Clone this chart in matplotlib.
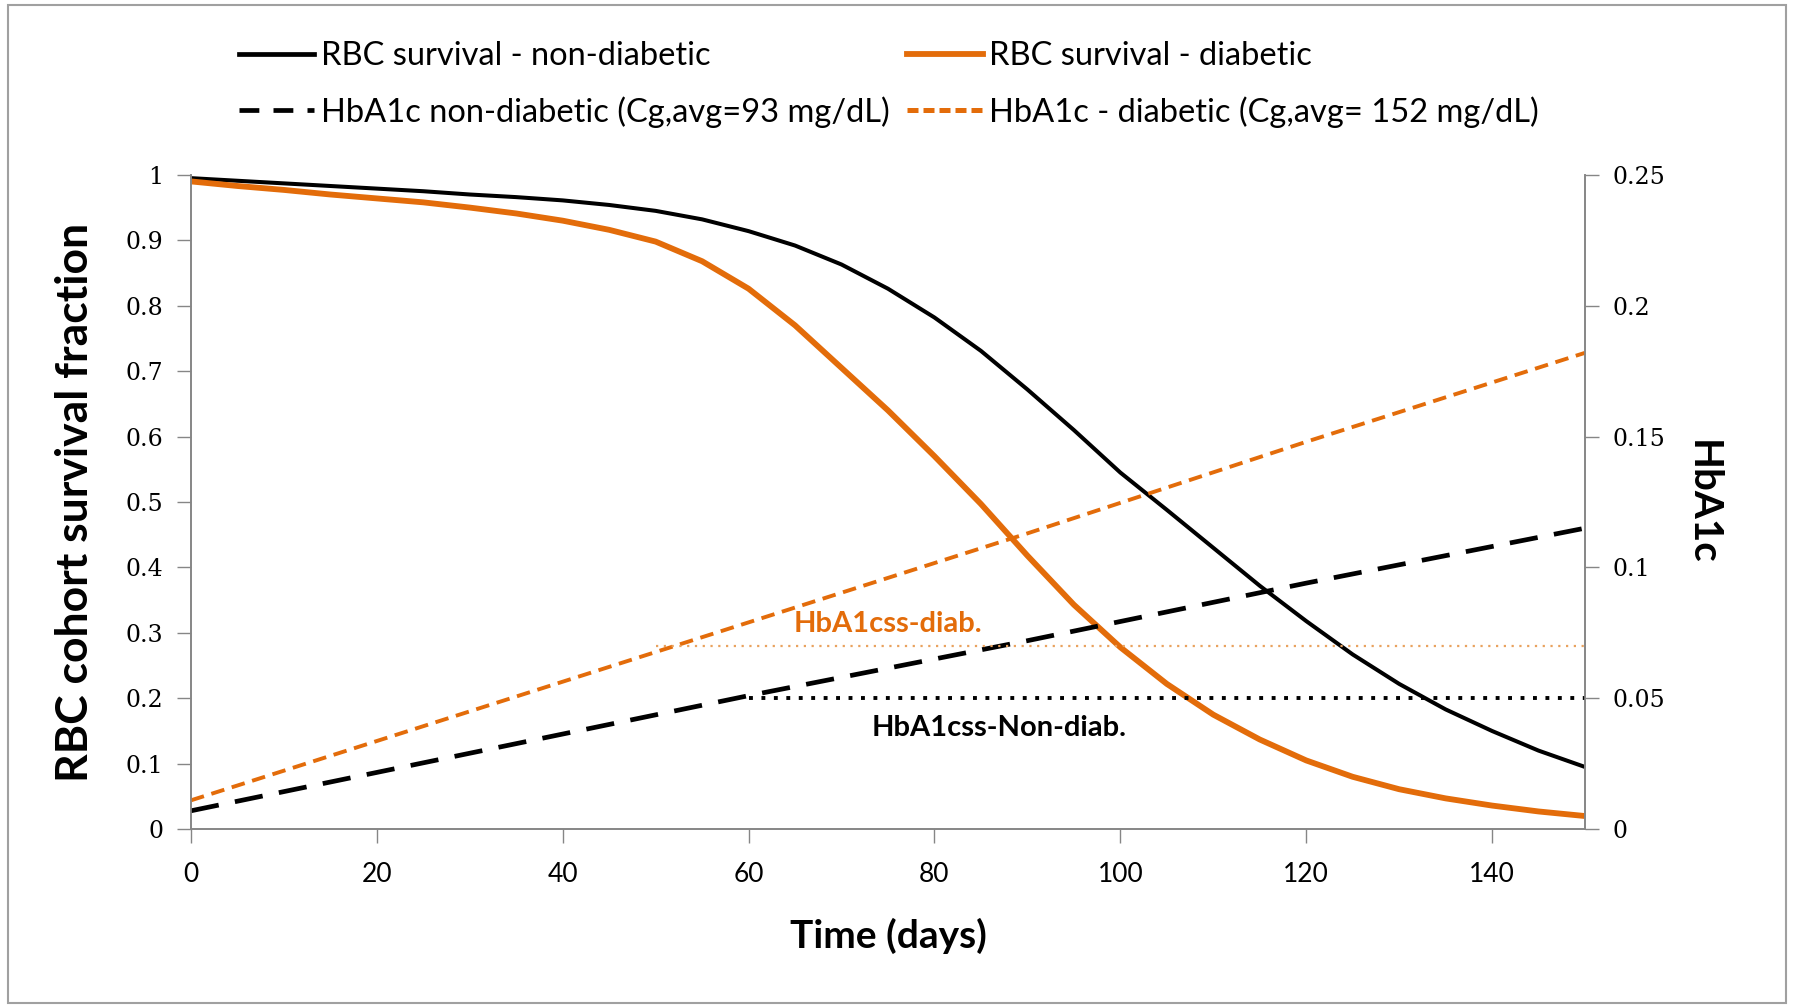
import numpy as np
import matplotlib.pyplot as plt
from matplotlib.patches import Rectangle
from matplotlib.lines import Line2D

# Values
days = [0, 5, 10, 15, 20, 25, 30, 35, 40, 45, 50, 55, 60, 65, 70, 75,
        80, 85, 90, 95, 100, 105, 110, 115, 120, 125, 130, 135, 140, 145, 150]
surv_nondiab = [0.995, 0.991, 0.987, 0.983, 0.979, 0.975, 0.970, 0.966, 0.961, 0.954,
                0.945, 0.932, 0.914, 0.892, 0.863, 0.826, 0.782, 0.731, 0.672, 0.610,
                0.545, 0.488, 0.430, 0.372, 0.318, 0.267, 0.222, 0.183, 0.150, 0.120, 0.095]
surv_diab = [0.990, 0.983, 0.977, 0.970, 0.964, 0.958, 0.950, 0.941, 0.930, 0.916,
             0.898, 0.868, 0.826, 0.770, 0.705, 0.640, 0.570, 0.497, 0.418, 0.343,
             0.278, 0.222, 0.175, 0.137, 0.105, 0.080, 0.061, 0.047, 0.036, 0.027, 0.020]

hba1c_days = [0, 30, 60, 90, 120, 150]
hba1c_nondiab = [0.007, 0.029, 0.051, 0.072, 0.094, 0.115]
hba1c_diab = [0.011, 0.045, 0.079, 0.113, 0.148, 0.182]

ss_nondiab_days = [60, 150]
ss_nondiab = [0.05, 0.05]
ss_diab_days = [50, 150]
ss_diab = [0.07, 0.07]

orange = '#E36C0A'
sans = ['Lato', 'DejaVu Sans']
serif = ['DejaVu Serif']

fig = plt.figure(figsize=(17.93, 10.05), dpi=100)
ax = fig.add_axes([0.1065, 0.175, 0.7775, 0.651])
ax2 = ax.twinx()

ax.plot(days, surv_nondiab, color='black', lw=2.9, solid_capstyle='butt')
ax.plot(days, surv_diab, color=orange, lw=4.2, solid_capstyle='butt')
ax2.plot(hba1c_days, hba1c_nondiab, color='black', lw=3.4, dashes=(6, 3.5))
ax2.plot(hba1c_days, hba1c_diab, color=orange, lw=2.8, dashes=(3.5, 2))
ax2.plot(ss_nondiab_days, ss_nondiab, color='black', lw=2.8, ls=(0, (1, 2.2)))
ax2.plot(ss_diab_days, ss_diab, color='#E9A25E', lw=1.6, ls=(0, (1, 2.5)))

ax.text(75, 0.313, 'HbA1css-diab.', color=orange, fontsize=21, fontweight='bold',
        family=sans, ha='center', va='center')
ax.text(87, 0.155, 'HbA1css-Non-diab.', color='black', fontsize=21, fontweight='bold',
        family=sans, ha='center', va='center')

ax.set_xlim(0, 150)
ax.set_ylim(0, 1)
ax2.set_ylim(0, 0.25)
ax.set_xticks(np.arange(0, 141, 20))
ax.set_yticks(np.arange(0, 1.01, 0.1))
ax.set_yticklabels(['0', '0.1', '0.2', '0.3', '0.4', '0.5', '0.6', '0.7', '0.8', '0.9', '1'])
ax2.set_yticks([0, 0.05, 0.1, 0.15, 0.2, 0.25])
ax2.set_yticklabels(['0', '0.05', '0.1', '0.15', '0.2', '0.25'])

grey = '#868686'
for a in (ax, ax2):
    a.spines['top'].set_visible(False)
    for s in ('left', 'right', 'bottom'):
        a.spines[s].set_color(grey)
        a.spines[s].set_linewidth(1.2)
ax.tick_params(axis='both', direction='out', length=10, width=1, color=grey)
ax2.tick_params(axis='y', direction='out', length=10, width=1, color=grey)
for lab in ax.get_yticklabels() + ax2.get_yticklabels():
    lab.set_family(serif)
    lab.set_fontsize(17)
for lab in ax.get_xticklabels():
    lab.set_family(sans)
    lab.set_fontsize(19)
ax.tick_params(axis='x', pad=14)
ax.tick_params(axis='y', pad=10)
ax2.tick_params(axis='y', pad=10)

ax.set_ylabel('RBC cohort survival fraction', fontsize=32, fontweight='bold',
              family=sans, labelpad=22)
ax.set_xlabel('Time (days)', fontsize=28, fontweight='bold', family=sans, labelpad=22)
ax2.set_ylabel('HbA1c', fontsize=29, fontweight='bold', family=sans,
               rotation=-90, labelpad=40)

handles = [Line2D([], [], color='black', lw=3.4),
           Line2D([], [], color='black', lw=3.4, dashes=(4.2, 3)),
           Line2D([], [], color=orange, lw=4.2),
           Line2D([], [], color=orange, lw=3.6, dashes=(2.2, 1.0))]
labels = ['RBC survival - non-diabetic',
          'HbA1c non-diabetic (Cg,avg=93 mg/dL)',
          'RBC survival - diabetic',
          'HbA1c - diabetic (Cg,avg= 152 mg/dL)']
fig.legend(handles, labels, ncol=2, loc='upper left', bbox_to_anchor=(0.117, 0.988),
           frameon=False, prop={'family': sans, 'size': 23.5}, handlelength=2.3,
           handletextpad=0.2, columnspacing=0.55, labelspacing=0.75)

fig.add_artist(Rectangle((8 / 1793, 2 / 1005), 1778 / 1793, 998 / 1005,
                         transform=fig.transFigure, fill=False,
                         edgecolor='#a0a0a0', lw=1.5))

fig.savefig('out.png', dpi=100)
